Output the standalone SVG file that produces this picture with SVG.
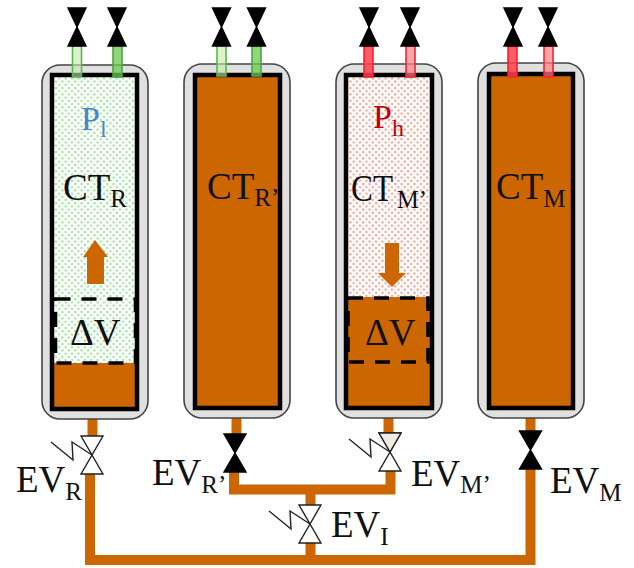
<svg xmlns="http://www.w3.org/2000/svg" width="634" height="568" viewBox="0 0 634 568">
<style>
.shell{fill:#e0e0e0;stroke:#444;stroke-width:1.6}
.wall{stroke:#000;stroke-width:4.5}
.oil{fill:#cc6600}
.pipe{fill:none;stroke:#cc6600;stroke-width:10;stroke-linejoin:miter}
.vb{fill:#000;stroke:#000;stroke-width:1.4}
.vw{fill:#fff;stroke:#222;stroke-width:1.4}
.spring{fill:none;stroke:#222;stroke-width:1.4}
.dash{fill:none;stroke:#000;stroke-width:3.6;stroke-dasharray:15 11}
text{font-family:"Liberation Serif","Times New Roman",serif;fill:#111;font-size:37px}
.sub{font-size:25px}
</style>
<defs>
<pattern id="dotsG" width="6.4" height="6.4" patternUnits="userSpaceOnUse"><rect width="6.4" height="6.4" fill="#fff"/><circle cx="1.6" cy="1.6" r="1.1" fill="#8ee28e"/><circle cx="4.8" cy="4.8" r="1.1" fill="#8ee28e"/></pattern>
<pattern id="dotsR" width="6.4" height="6.4" patternUnits="userSpaceOnUse"><rect width="6.4" height="6.4" fill="#fff"/><circle cx="1.6" cy="1.6" r="1.1" fill="#f89484"/><circle cx="4.8" cy="4.8" r="1.1" fill="#f89484"/></pattern>
<g id="vBlack"><path class="vb" d="M-9-19H9L0 0L9 19H-9L0 0Z"/></g>
<g id="vLarge"><path class="vb" d="M-11-19H11L0 0L11 19H-11L0 0Z"/></g>
<g id="vWhite"><path class="vw" d="M-11-19H11L0 0L11 19H-11L0 0Z"/><path class="spring" d="M0 0L-20-13L-19 5L-41-13"/></g>
</defs>

<g id="connectors">
<path class="pipe" d="M92.500 405V437"/>
<path class="pipe" d="M90 474V560H530.500V469"/>
<path class="pipe" d="M530.500 405V432"/>
<path class="pipe" d="M236.500 405V436"/>
<path class="pipe" d="M234 472V489.500H390.500V471"/>
<path class="pipe" d="M388.500 405V434"/>
<path class="pipe" d="M310.500 489.500V506"/>
<path class="pipe" d="M310.500 543V560"/>
</g>

<g id="tank-CT-R">
<rect class="shell" x="42" y="65" width="106" height="354" rx="18"/>
<rect x="52" y="75" width="85" height="334" fill="url(#dotsG)"/>
<rect class="oil" x="52" y="363" width="85" height="46"/>
<rect class="wall" x="52" y="75" width="85" height="334" fill="none"/>
<rect class="dash" x="55.500" y="299" width="80" height="64"/>
<path class="oil" d="M95 240L108 257H104V284H87V257H83Z"/>
<text x="81" y="130" style="font-size:34px;fill:#4a86c8">P<tspan dy="7" style="font-size:24px;fill:#4a86c8">l</tspan></text>
<text x="63" y="200">CT<tspan class="sub" dy="7">R</tspan></text>
<text x="70" y="345">ΔV</text>
</g>
<g id="ports-CT-R">
<rect x="72.500" y="46" width="9" height="31" fill="#c9e8a8" fill-opacity=".6" stroke="#55b855" stroke-width="1.6"/>
<rect x="113" y="46" width="9" height="31" fill="#6cc84c" fill-opacity=".75" stroke="#45a845" stroke-width="1.6"/>
<use href="#vBlack" x="77" y="27"/><use href="#vBlack" x="117" y="27"/>
</g>

<g id="tank-CT-R2">
<rect class="shell" x="184" y="64" width="106" height="354" rx="18"/>
<rect class="oil wall" x="195" y="75" width="85" height="333"/>
<text x="207" y="199">CT<tspan class="sub" dy="7">R’</tspan></text>
</g>
<g id="ports-CT-R2">
<rect x="217" y="46" width="9" height="30" fill="#c9e8a8" fill-opacity=".6" stroke="#55b855" stroke-width="1.6"/>
<rect x="252" y="46" width="9" height="30" fill="#6cc84c" fill-opacity=".75" stroke="#45a845" stroke-width="1.6"/>
<use href="#vBlack" x="221.500" y="27"/><use href="#vBlack" x="256.500" y="27"/>
</g>

<g id="tank-CT-M2">
<rect class="shell" x="336" y="64" width="106" height="354" rx="18"/>
<rect x="346" y="75" width="86" height="333" fill="url(#dotsR)"/>
<rect class="oil" x="346" y="297" width="86" height="111"/>
<rect class="wall" x="346" y="75" width="86" height="333" fill="none"/>
<rect class="dash" x="348" y="298" width="80" height="64"/>
<path class="oil" d="M392 287L378 273H385V243H399V273H406Z"/>
<text x="373" y="128" style="font-size:34px;fill:#c00000">P<tspan dy="8" style="font-size:24px;fill:#c00000">h</tspan></text>
<text x="351" y="201" textLength="42" lengthAdjust="spacingAndGlyphs" >CT</text>
<text class="sub" x="397" y="208" textLength="30" lengthAdjust="spacingAndGlyphs">M’</text>
<text x="365" y="345">ΔV</text>
</g>
<g id="ports-CT-M2">
<rect x="364" y="46" width="9" height="31" fill="#ff4050" fill-opacity=".85" stroke="#ff2030" stroke-width="1.6"/>
<rect x="406" y="46" width="9" height="31" fill="#ff8088" fill-opacity=".7" stroke="#ff2030" stroke-width="1.6"/>
<use href="#vBlack" x="369" y="27"/><use href="#vBlack" x="410" y="27"/>
</g>

<g id="tank-CT-M">
<rect class="shell" x="478" y="63" width="106" height="355" rx="18"/>
<rect class="oil wall" x="489" y="74" width="84" height="334"/>
<text x="496" y="199">CT<tspan class="sub" dy="8">M</tspan></text>
</g>
<g id="ports-CT-M">
<rect x="508" y="46" width="9" height="31" fill="#ff4050" fill-opacity=".85" stroke="#ff2030" stroke-width="1.6"/>
<rect x="544" y="46" width="9" height="31" fill="#ff8088" fill-opacity=".7" stroke="#ff2030" stroke-width="1.6"/>
<use href="#vBlack" x="513" y="27"/><use href="#vBlack" x="548" y="27"/>
</g>

<g id="valve-EV-R"><use href="#vWhite" x="92" y="455"/><text x="16" y="492">EV<tspan class="sub" dy="8">R</tspan></text></g>
<g id="valve-EV-R2"><use href="#vLarge" x="235" y="453"/><text x="152" y="485">EV<tspan class="sub" dy="8">R’</tspan></text></g>
<g id="valve-EV-M2"><use href="#vWhite" x="390" y="452"/><path d="M379 433H401L390 452Z" fill="#ecece0" stroke="#222" stroke-width="1.400"/><text x="411" y="486">EV<tspan class="sub" dy="7">M’</tspan></text></g>
<g id="valve-EV-M"><use href="#vLarge" x="530.500" y="450"/><text x="550" y="493">EV<tspan class="sub" dy="8">M</tspan></text></g>
<g id="valve-EV-I"><use href="#vWhite" x="310" y="524"/><text x="331" y="537">EV<tspan class="sub" dy="8">I</tspan></text></g>
</svg>
